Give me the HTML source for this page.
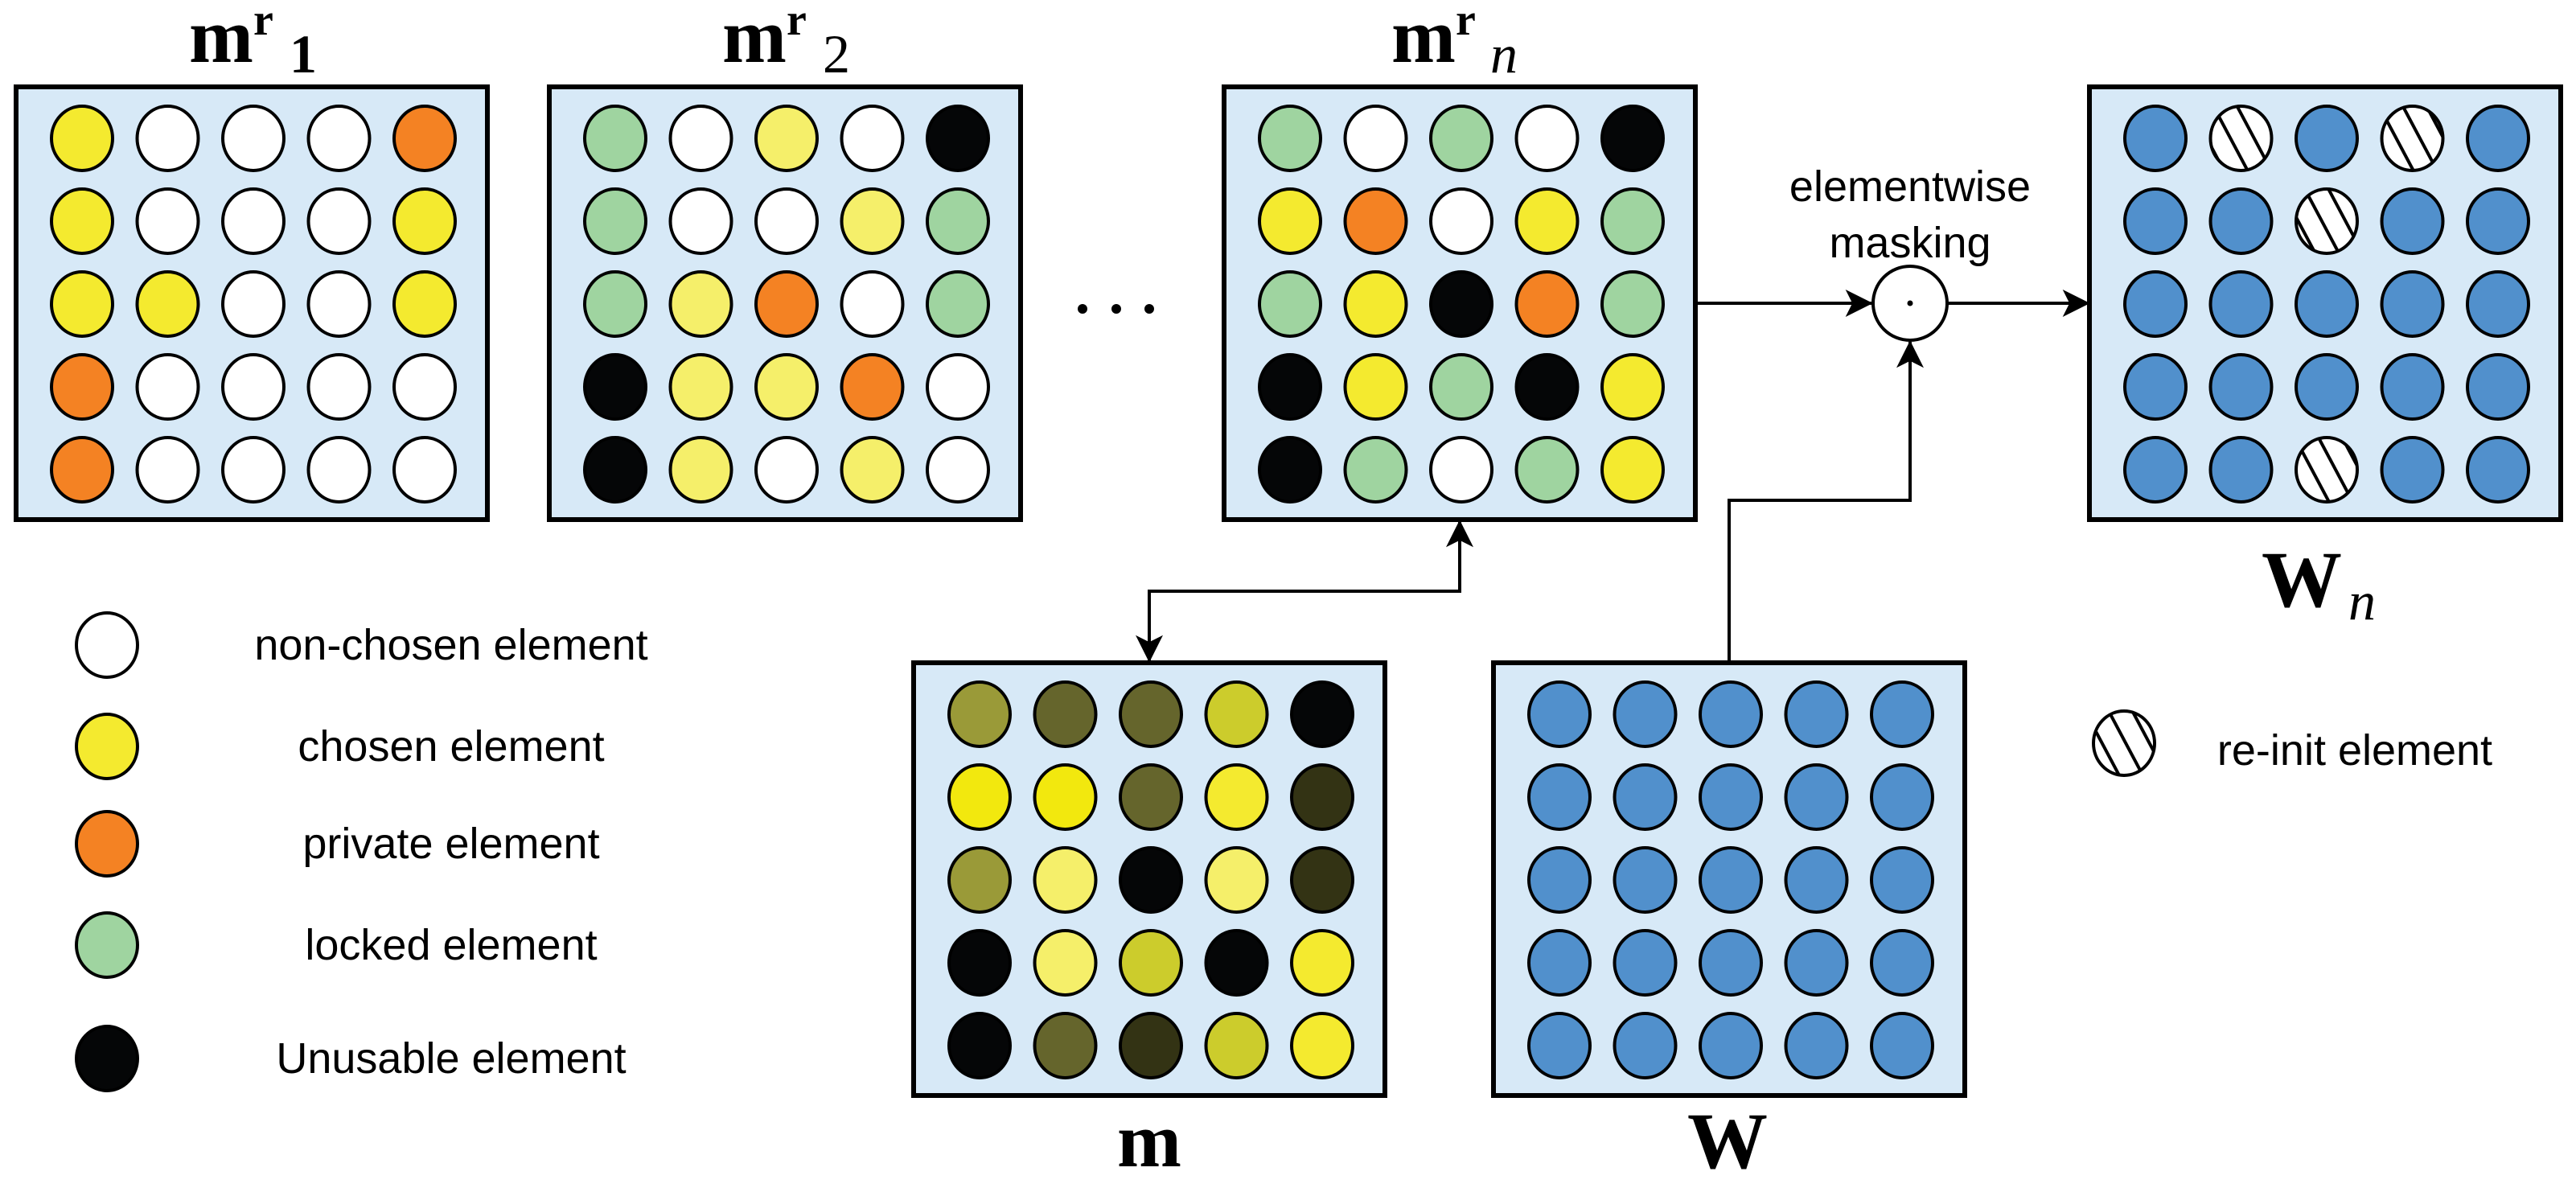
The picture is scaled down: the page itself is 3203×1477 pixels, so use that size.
<!DOCTYPE html>
<html><head><meta charset="utf-8"><style>
html,body{margin:0;padding:0;background:#fff;}
svg{display:block;}
.lg{font-family:"Liberation Sans",sans-serif;font-size:54px;fill:#000;}
.mb{font-family:"Liberation Serif",serif;font-weight:bold;fill:#000;}
.it{font-family:"Liberation Serif",serif;font-style:italic;fill:#000;}
</style></head><body>
<svg id="s" width="3203" height="1477" viewBox="0 0 3203 1477" xmlns="http://www.w3.org/2000/svg">
<defs>
<pattern id="hatch" patternUnits="userSpaceOnUse" width="26" height="26" patternTransform="rotate(-28)">
<rect width="26" height="26" fill="#fff"/>
<rect x="0" y="0" width="4" height="26" fill="#000"/>
</pattern>
<marker id="ah" viewBox="0 0 20 20" refX="19" refY="10" markerWidth="20" markerHeight="20" markerUnits="userSpaceOnUse" orient="auto-start-reverse">
<path d="M0,0 L20,10 L0,20 L5,10 Z" fill="#000"/>
</marker>
<marker id="ah2" viewBox="0 0 20 20" refX="19" refY="10" markerWidth="34" markerHeight="34" markerUnits="userSpaceOnUse" orient="auto-start-reverse">
<path d="M0,0 L20,10 L0,20 L5,10 Z" fill="#000"/>
</marker>
</defs>
<g id="boxes"></g>
<!-- labels -->
<text class="mb" x="235" y="77" font-size="96">m</text>
<text class="mb" x="315" y="43" font-size="56">r</text>
<text class="mb" x="360" y="90" font-size="68" font-weight="normal">1</text>
<text class="mb" x="898" y="77" font-size="96">m</text>
<text class="mb" x="978" y="43" font-size="56">r</text>
<text class="mb" x="1023" y="90" font-size="68" style="font-weight:normal">2</text>
<text class="mb" x="1730" y="77" font-size="96">m</text>
<text class="mb" x="1810" y="43" font-size="56">r</text>
<text class="it" x="1853" y="90" font-size="68">n</text>
<text class="mb" x="2812" y="754" font-size="100">W</text>
<text class="it" x="2920" y="770" font-size="68">n</text>
<text class="mb" x="1429" y="1450" font-size="96" text-anchor="middle">m</text>
<text class="mb" x="2148" y="1452" font-size="100" text-anchor="middle">W</text>
<!-- dots -->
<circle cx="1346" cy="384" r="6" fill="#000"/><circle cx="1388" cy="384" r="6" fill="#000"/><circle cx="1429" cy="384" r="6" fill="#000"/>
<!-- connectors -->
<line x1="2106" y1="377" x2="2327" y2="377" stroke="#000" stroke-width="4" marker-end="url(#ah2)"/>
<line x1="2422" y1="377" x2="2597" y2="377" stroke="#000" stroke-width="4" marker-end="url(#ah2)"/>
<polyline points="2150,824 2150,622 2375,622 2375,425" fill="none" stroke="#000" stroke-width="4" marker-end="url(#ah2)"/>
<polyline points="1815,648 1815,735 1429,735 1429,822" fill="none" stroke="#000" stroke-width="4" marker-start="url(#ah2)" marker-end="url(#ah2)"/>
<circle cx="2375" cy="377" r="46" fill="#fff" stroke="#000" stroke-width="4"/>
<circle cx="2375" cy="377" r="3.5" fill="#000"/>
<text class="lg" x="2375" y="250" text-anchor="middle" font-size="52">elementwise</text>
<text class="lg" x="2375" y="320" text-anchor="middle" font-size="52">masking</text>
<!-- legend -->
<g stroke="#000" stroke-width="4">
<ellipse cx="133" cy="802" rx="38" ry="40" fill="#fff"/>
<ellipse cx="133" cy="928" rx="38" ry="40" fill="#f4ea2f"/>
<ellipse cx="133" cy="1049" rx="38" ry="40" fill="#f48223"/>
<ellipse cx="133" cy="1175" rx="38" ry="40" fill="#9fd4a0"/>
<ellipse cx="133" cy="1316" rx="38" ry="40" fill="#050607"/>
<ellipse cx="2641" cy="924" rx="38" ry="40" fill="url(#hatch)"/>
</g>
<text class="lg" x="561" y="820" text-anchor="middle">non-chosen element</text>
<text class="lg" x="561" y="946" text-anchor="middle">chosen element</text>
<text class="lg" x="561" y="1067" text-anchor="middle">private element</text>
<text class="lg" x="561" y="1193" text-anchor="middle">locked element</text>
<text class="lg" x="561" y="1334" text-anchor="middle">Unusable element</text>
<text class="lg" x="2928" y="951" text-anchor="middle">re-init element</text>
</svg>
<script>
var C={W:"#ffffff",Y:"#f4ea2f",O:"#f48223",G:"#9fd4a0",K:"#050607",P:"#f5ef6a",B:"#5190cc",A:"#9a9a38",D:"#65652c",C:"#cccc2c",E:"#333314",F:"#f2e80e",H:"url(#hatch)"};
var boxes=[
[20,108,["YWWWO","YWWWY","YYWWY","OWWWW","OWWWW"]],
[683,108,["GWPWK","GWWPG","GPOWG","KPPOW","KPWPW"]],
[1522,108,["GWGWK","YOWYG","GYKOG","KYGKY","KGWGY"]],
[2598,108,["BHBHB","BBHBB","BBBBB","BBBBB","BBHBB"]],
[1136,824,["ADDCK","FFDYE","APKPE","KPCKY","KDECY"]],
[1857,824,["BBBBB","BBBBB","BBBBB","BBBBB","BBBBB"]]
];
var g=document.getElementById("boxes"),ns="http://www.w3.org/2000/svg",h="";
boxes.forEach(function(b){
 h+='<rect x="'+b[0]+'" y="'+b[1]+'" width="586" height="538" fill="#d7e9f7" stroke="#000" stroke-width="6"/>';
 for(var j=0;j<5;j++)for(var i=0;i<5;i++){
  var cx=b[0]+82+106.5*i, cy=b[1]+64+103*j;
  h+='<ellipse cx="'+cx+'" cy="'+cy+'" rx="38" ry="40" fill="'+C[b[2][j][i]]+'" stroke="#000" stroke-width="4"/>';
 }
});
g.innerHTML=h;
</script>
</body></html>
